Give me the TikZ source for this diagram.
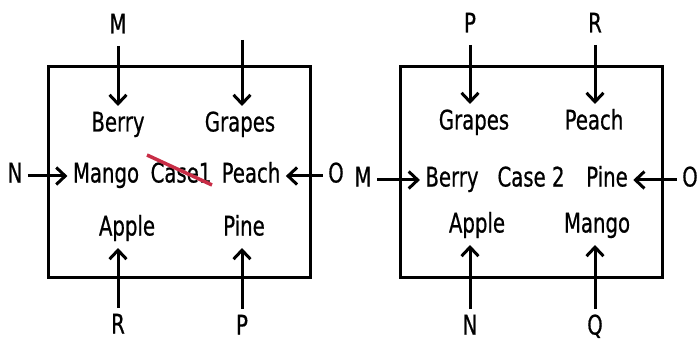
\documentclass[tikz,border=0pt]{standalone}
\usepackage{fontspec}
\setmainfont[FakeStretch=0.73,FakeBold=0.6]{DejaVu Sans}
\usetikzlibrary{positioning,calc}
\usetikzlibrary{arrows.meta}
\definecolor{strikered}{RGB}{200,45,70}

\begin{document}
\begin{tikzpicture}[x=1pt,y=-1pt,line width=3pt,
    >={Straight Barb[length=9pt,width=17pt]},
    every node/.style={font=\fontsize{27}{30}\selectfont,inner sep=4pt,
      text height=20pt,text depth=7pt},
    flow/.style={->}]
  \useasboundingbox (0,0) rectangle (699,342);

  % Case 1 box
  \draw (48,67) rectangle (310,277);

  % Case 1 labels
  \node (mL) at (118,27) {M};
  \node (berryL) at (118,125) {Berry};
  \node (grapesL) at (240,125) {Grapes};
  \coordinate (topL) at (242,40);
  \node (nL) at (15,176) {N};
  \node (mangoL) at (106,176) {Mango};
  \node (caseL) at (181,176) {Case1};
  \node (peachL) at (251,176) {Peach};
  \node (oL) at (336,176) {O};
  \node (appleL) at (127,229) {Apple};
  \node (pineL) at (244,229) {Pine};
  \node (rL) at (118,327) {R};
  \node (pL) at (242,328) {P};

  % Case 1 arrows
  \draw[flow] (mL) -- (mL |- berryL.north);
  \draw[flow] (topL) -- (topL |- grapesL.north);
  \draw[flow] (nL) -- (mangoL);
  \draw[flow] (oL) -- (peachL);
  \draw[flow] (rL) -- (rL |- appleL.south);
  \draw[flow] (pL) -- (pL |- pineL.south);
  \draw[strikered,line width=3.5pt] ($(caseL.center)+(-34,-21)$) -- ($(caseL.center)+(31,9)$); % struck out

  % Case 2 box
  \draw (400,67) rectangle (662,277);

  % Case 2 labels
  \node (pR) at (470,26) {P};
  \node (rR) at (595,26) {R};
  \node (grapesR) at (474,123) {Grapes};
  \node (peachR) at (594,123) {Peach};
  \node (mR) at (363,180) {M};
  \node (berryR) at (452,180) {Berry};
  \node (caseR) at (531,180) {Case 2};
  \node (pineR) at (607,180) {Pine};
  \node (oR) at (690,180) {O};
  \node (appleR) at (477,226) {Apple};
  \node (mangoR) at (597,226) {Mango};
  \node (nR) at (470,328) {N};
  \node (qR) at (595,328) {Q};

  % Case 2 arrows
  \draw[flow] (pR) -- (pR |- grapesR.north);
  \draw[flow] (rR) -- (rR |- peachR.north);
  \draw[flow] (mR) -- (berryR);
  \draw[flow] (oR) -- (pineR);
  \draw[flow] (nR) -- (nR |- appleR.south);
  \draw[flow] (qR) -- (qR |- mangoR.south);
\end{tikzpicture}
\end{document}
